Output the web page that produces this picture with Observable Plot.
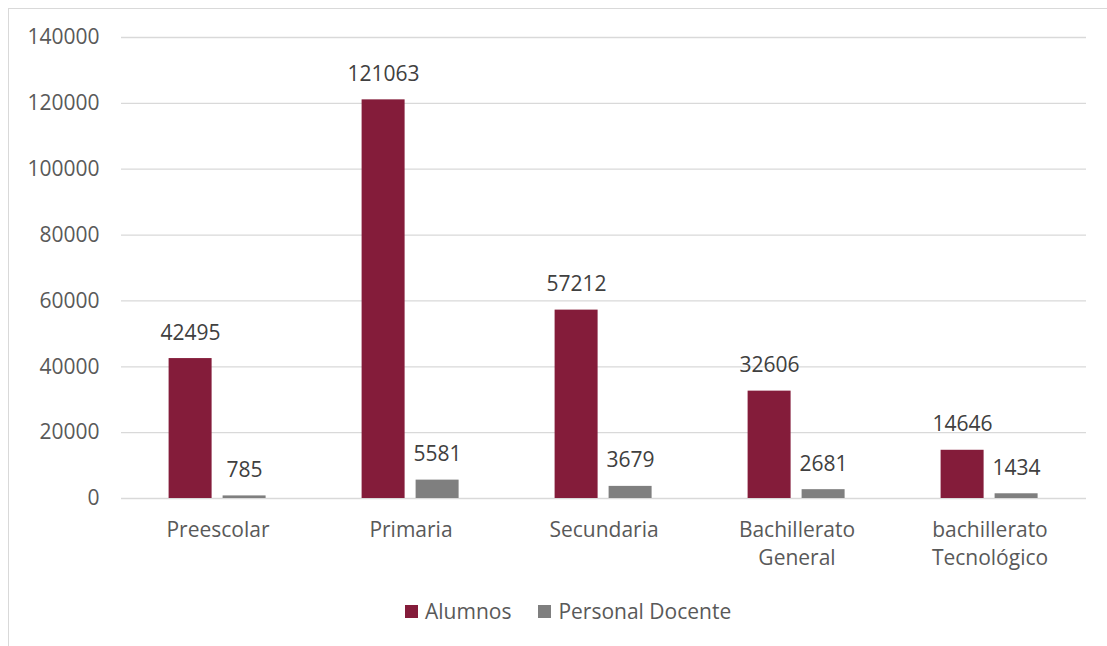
<!DOCTYPE html>
<html>
<head>
<meta charset="utf-8">
<script src="https://cdn.jsdelivr.net/npm/d3@7"></script>
<script src="https://cdn.jsdelivr.net/npm/@observablehq/plot@0.6"></script>
<style>
  html, body { margin: 0; padding: 0; background: #fff; overflow: hidden; width: 1107px; height: 646px; }
  #frame { position: absolute; left: 8px; top: 8px; width: 1300px; height: 900px; border: 1px solid #d9d9d9; box-sizing: border-box; }
  #chart { position: absolute; left: 0; top: 0; }
  #legend { position: absolute; top: 597px; left: 405px; display: flex; align-items: center; font-family: "Open Sans", sans-serif; font-size: 21px; color: #595959; }
  .item { display: flex; align-items: center; margin-right: 27px; }
  .sw { width: 13px; height: 13px; margin-right: 7px; }
</style>
</head>
<body>
<div id="frame"></div>
<div id="chart"></div>
<div id="legend"></div>
<script>
const categories = ["Preescolar", "Primaria", "Secundaria", "Bachillerato General", "bachillerato Tecnológico"];
const categoryLabels = ["Preescolar", "Primaria", "Secundaria", "Bachillerato\nGeneral", "bachillerato\nTecnológico"];
const series = ["Alumnos", "Personal Docente"];
const alumnos = [42495, 121063, 57212, 32606, 14646];
const docentes = [785, 5581, 3679, 2681, 1434];
const yTicks = [0, 20000, 40000, 60000, 80000, 100000, 120000, 140000];
const colors = ["#841c3a", "#7f7f7f"];

const data = categories.flatMap((c, i) => [
  {cat: c, serie: series[0], value: alumnos[i]},
  {cat: c, serie: series[1], value: docentes[i]}
]);

const chart = Plot.plot({
  width: 1107,
  height: 580,
  marginTop: 37,
  marginBottom: 82,
  marginLeft: 120.4,
  marginRight: 20.4,
  style: {fontFamily: "Open Sans", fontSize: "21px", background: "transparent"},
  fx: {domain: categories, padding: 0, label: null},
  x: {domain: series, paddingInner: 0.2, paddingOuter: 0.857, axis: null},
  y: {domain: [0, 140000], label: null},
  color: {domain: series, range: colors},
  marks: [
    Plot.gridY(yTicks, {stroke: "#d9d9d9", strokeOpacity: 1, strokeWidth: 1.3}),
    Plot.axisY(yTicks, {tickSize: 0, tickPadding: 22, fill: "#595959", fontSize: 21, label: null, tickFormat: d => String(d)}),
    Plot.axisFx({anchor: "bottom", tickSize: 0, tickPadding: 18, lineAnchor: "top", lineHeight: 1.35, fill: "#595959", fontSize: 21, label: null,
      tickFormat: c => categoryLabels[categories.indexOf(c)]}),
    Plot.barY(data, {fx: "cat", x: "serie", y: "value", fill: "serie"}),
    Plot.text(data, {fx: "cat", x: "serie", y: "value", text: d => String(d.value), lineAnchor: "bottom", dy: -19, fill: "#404040", fontSize: 21})
  ]
});
document.getElementById("chart").appendChild(chart);

const legend = document.getElementById("legend");
series.forEach((s, i) => {
  const item = document.createElement("div");
  item.className = "item";
  const sw = document.createElement("div");
  sw.className = "sw";
  sw.style.background = colors[i];
  const t = document.createElement("span");
  t.textContent = s;
  item.appendChild(sw);
  item.appendChild(t);
  legend.appendChild(item);
});
</script>
</body>
</html>
